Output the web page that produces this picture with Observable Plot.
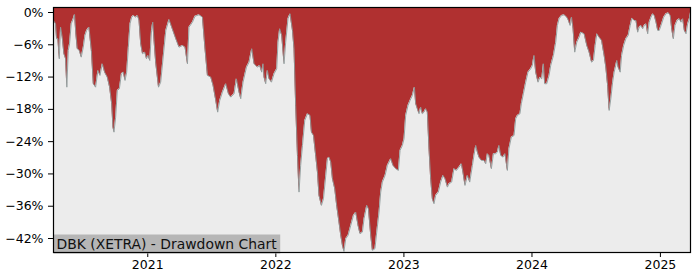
<!DOCTYPE html>
<html>
<head>
<meta charset="utf-8">
<script src="https://cdn.jsdelivr.net/npm/d3@7"></script>
<script src="https://cdn.jsdelivr.net/npm/@observablehq/plot@0.6"></script>
<style>
  html, body { margin: 0; padding: 0; background: #fff; }
  #chart { width: 700px; height: 280px; }
</style>
</head>
<body>
<div id="chart"></div>
<script>
// ---- Data ----
const chartTitle = "DBK (XETRA) - Drawdown Chart";

// dates as fractional years
const years = [
  2020.266,2020.282,2020.290,2020.300,2020.311,2020.321,2020.334,2020.347,2020.360,2020.370,
  2020.381,2020.391,2020.404,2020.420,2020.430,2020.440,2020.451,2020.467,2020.482,2020.498,
  2020.511,2020.524,2020.542,2020.550,2020.561,2020.576,2020.594,2020.612,2020.628,2020.646,
  2020.664,2020.685,2020.703,2020.719,2020.729,2020.737,2020.750,2020.763,2020.779,2020.795,
  2020.810,2020.823,2020.836,2020.849,2020.862,2020.875,2020.888,2020.906,2020.920,2020.932,
  2020.945,2020.959,2020.977,2020.990,2021.002,2021.016,2021.029,2021.039,2021.049,2021.062,
  2021.084,2021.101,2021.141,2021.166,2021.187,2021.219,2021.244,2021.271,2021.291,2021.310,
  2021.322,2021.349,2021.369,2021.400,2021.427,2021.447,2021.466,2021.492,2021.510,2021.531,
  2021.546,2021.562,2021.583,2021.609,2021.630,2021.648,2021.674,2021.692,2021.713,2021.726,
  2021.744,2021.771,2021.791,2021.812,2021.830,2021.856,2021.874,2021.890,2021.900,2021.908,
  2021.921,2021.934,2021.947,2021.966,2021.986,2022.007,2022.017,2022.030,2022.046,2022.064,
  2022.077,2022.095,2022.111,2022.130,2022.142,2022.155,2022.169,2022.181,2022.194,2022.208,
  2022.226,2022.247,2022.267,2022.278,2022.294,2022.311,2022.325,2022.337,2022.356,2022.372,
  2022.390,2022.403,2022.415,2022.429,2022.442,2022.460,2022.475,2022.493,2022.507,2022.520,
  2022.532,2022.546,2022.564,2022.585,2022.606,2022.624,2022.642,2022.657,2022.676,2022.689,
  2022.710,2022.723,2022.741,2022.754,2022.774,2022.788,2022.806,2022.819,2022.832,2022.853,
  2022.871,2022.897,2022.915,2022.936,2022.957,2022.970,2022.988,2023.001,2023.014,2023.032,
  2023.048,2023.066,2023.082,2023.092,2023.105,2023.118,2023.131,2023.144,2023.157,2023.170,
  2023.183,2023.196,2023.209,2023.222,2023.235,2023.248,2023.269,2023.287,2023.305,2023.321,
  2023.340,2023.352,2023.373,2023.391,2023.410,2023.430,2023.449,2023.461,2023.477,2023.496,
  2023.514,2023.535,2023.547,2023.561,2023.574,2023.586,2023.605,2023.625,2023.639,2023.652,
  2023.664,2023.683,2023.699,2023.717,2023.730,2023.742,2023.756,2023.774,2023.789,2023.808,
  2023.820,2023.839,2023.860,2023.873,2023.886,2023.906,2023.917,2023.933,2023.951,2023.969,
  2023.990,2024.003,2024.016,2024.029,2024.047,2024.062,2024.076,2024.089,2024.099,2024.115,
  2024.133,2024.146,2024.167,2024.185,2024.198,2024.211,2024.230,2024.250,2024.271,2024.284,
  2024.297,2024.308,2024.320,2024.333,2024.349,2024.367,2024.380,2024.406,2024.427,2024.445,
  2024.464,2024.479,2024.492,2024.505,2024.523,2024.542,2024.562,2024.575,2024.589,2024.601,
  2024.614,2024.628,2024.640,2024.661,2024.671,2024.687,2024.698,2024.714,2024.731,2024.749,
  2024.765,2024.778,2024.796,2024.810,2024.823,2024.835,2024.849,2024.862,2024.874,2024.888,
  2024.901,2024.913,2024.927,2024.940,2024.952,2024.966,2024.979,2024.991,2025.005,2025.026,
  2025.044,2025.062,2025.077,2025.088,2025.101,2025.114,2025.130,2025.148,2025.161,2025.174,
  2025.187,2025.200,2025.213,2025.226,2025.235
];

// drawdown in percent
const drawdown = [
  -1.49,-2.10,-4.89,-4.89,-8.60,-2.73,-4.59,-7.67,-8.60,-13.88,
  -7.06,-5.81,-2.10,-1.17,-0.37,-3.96,-6.74,-7.06,-8.30,-6.45,
  -4.27,-3.34,-2.73,-4.59,-7.06,-13.24,-13.88,-10.77,-11.70,-9.53,
  -11.09,-12.02,-13.88,-16.96,-21.31,-22.24,-19.45,-14.49,-14.17,-11.39,
  -11.09,-12.63,-11.09,-6.45,-2.10,-0.87,-0.56,-0.87,-0.56,-1.49,
  -5.81,-7.67,-7.37,-8.60,-7.99,-8.92,-3.34,-1.80,-5.20,-9.29,
  -13.88,-12.95,-3.34,-1.30,-2.73,-4.89,-6.45,-6.13,-6.45,-9.53,
  -2.73,-1.80,-0.69,-0.43,-0.87,-6.74,-11.70,-12.02,-13.56,-16.35,
  -18.52,-16.35,-14.81,-13.24,-15.10,-15.73,-15.10,-12.32,-14.81,-16.03,
  -12.95,-10.16,-9.23,-6.74,-9.53,-10.16,-9.85,-11.09,-9.53,-12.02,
  -13.24,-10.77,-12.32,-12.95,-11.39,-10.46,-5.52,-3.03,-4.27,-9.53,
  -5.52,-1.17,-0.24,-3.34,-6.74,-17.28,-26.56,-33.38,-28.42,-24.71,
  -20.06,-18.82,-19.13,-22.24,-22.85,-26.56,-29.67,-33.99,-35.85,-34.61,
  -30.28,-27.18,-26.88,-27.81,-30.89,-32.75,-35.85,-38.95,-41.42,-43.28,
  -44.40,-42.04,-41.42,-39.57,-37.71,-37.10,-39.57,-41.11,-40.81,-38.32,
  -35.85,-36.47,-41.42,-44.21,-43.89,-40.81,-37.10,-33.38,-31.52,-30.28,
  -28.42,-27.18,-28.42,-29.03,-29.35,-25.63,-24.71,-23.46,-19.13,-17.28,
  -16.35,-15.42,-13.88,-16.96,-17.89,-18.82,-17.59,-18.82,-18.52,-17.89,
  -18.52,-25.32,-30.89,-34.61,-35.54,-33.99,-33.38,-31.52,-30.28,-30.89,
  -32.45,-31.82,-31.52,-29.03,-29.35,-28.74,-28.11,-29.67,-32.14,-30.28,
  -31.52,-28.42,-26.56,-24.71,-25.95,-26.88,-27.49,-27.49,-28.11,-26.25,
  -26.56,-29.03,-26.25,-26.25,-25.95,-24.71,-26.56,-26.88,-26.25,-29.35,
  -25.32,-23.16,-22.85,-19.75,-19.13,-18.82,-16.96,-15.10,-12.95,-11.09,
  -10.46,-9.85,-7.99,-11.09,-12.95,-12.02,-12.32,-9.53,-13.24,-13.24,
  -11.70,-9.85,-7.99,-5.52,-2.41,-1.17,-0.56,-0.43,-0.87,-1.49,
  -2.41,-0.87,-3.03,-7.37,-5.52,-4.59,-3.66,-3.96,-6.13,-7.37,
  -9.23,-8.92,-6.13,-3.96,-4.59,-5.20,-7.99,-10.16,-13.56,-18.20,
  -16.03,-12.95,-11.09,-8.92,-10.16,-11.09,-7.99,-6.13,-4.89,-4.27,
  -2.41,-1.06,-1.49,-1.49,-3.66,-2.73,-2.41,-3.03,-2.41,-2.10,
  -3.96,-1.80,-0.87,-0.24,-0.56,-1.80,-3.34,-3.34,-2.41,-0.87,
  -0.24,-0.06,-0.56,-3.03,-4.89,-2.41,-1.49,-1.17,-1.80,-1.17,
  -3.34,-3.96,-2.10,-1.17,0
];

const yTicks = [0, -6, -12, -18, -24, -30, -36, -42];
const xTickYears = [2021, 2022, 2023, 2024, 2025];
const yDomain = [-44.6, 0.93];

// ---- Build table ----
function fromFracYear(v) {
  const y = Math.floor(v);
  const start = Date.UTC(y, 0, 1), end = Date.UTC(y + 1, 0, 1);
  return new Date(start + (v - y) * (end - start));
}
const data = years.map((v, i) => ({ date: fromFracYear(v), dd: drawdown[i] }));
const xTicks = xTickYears.map(y => new Date(Date.UTC(y, 0, 1)));

const chart = Plot.plot({
  width: 700,
  height: 280,
  marginLeft: 53,
  marginRight: 10,
  marginTop: 7,
  marginBottom: 28,
  style: { fontFamily: "'DejaVu Sans', sans-serif", fontSize: "12.5px", color: "#000", background: "#fff" },
  x: {
    type: "utc",
    domain: d3.extent(data, d => d.date),
    ticks: xTicks,
    tickFormat: d3.utcFormat("%Y"),
    tickSize: 5,
    tickPadding: 3,
    label: null
  },
  y: {
    domain: yDomain,
    ticks: yTicks,
    tickFormat: d => d === 0 ? "0%" : "\u2212" + Math.abs(d) + "%",
    tickSize: 5,
    tickPadding: 5,
    label: null
  },
  marks: [
    Plot.frame({ fill: "#ececec" }),
    Plot.areaY(data, { x: "date", y1: "dd", y2: () => yDomain[1], fill: "#b03030", clip: true }),
    Plot.lineY(data, { x: "date", y: "dd", stroke: "#8e9a9a", strokeWidth: 0.9, clip: true }),
    Plot.text([chartTitle], {
      frameAnchor: "bottom-left",
      text: d => d,
      textAnchor: "start",
      lineAnchor: "bottom",
      dx: 3,
      dy: -4,
      fontSize: 13.9,
      fill: "#111"
    }),
    Plot.frame({ stroke: "#000", strokeWidth: 1.2 })
  ]
});

document.getElementById("chart").appendChild(chart);

// background box behind the title text
const t = chart.querySelector('g[aria-label="text"] text');
if (t) {
  const bb = t.getBBox();
  const rect = document.createElementNS("http://www.w3.org/2000/svg", "rect");
  rect.setAttribute("x", bb.x - 3);
  rect.setAttribute("y", bb.y - 1);
  rect.setAttribute("width", bb.width + 6);
  rect.setAttribute("height", bb.height + 3);
  rect.setAttribute("fill", "#b6b6b6");
  const tr = t.getAttribute("transform");
  if (tr) rect.setAttribute("transform", tr);
  t.parentNode.insertBefore(rect, t);
}
</script>
</body>
</html>
